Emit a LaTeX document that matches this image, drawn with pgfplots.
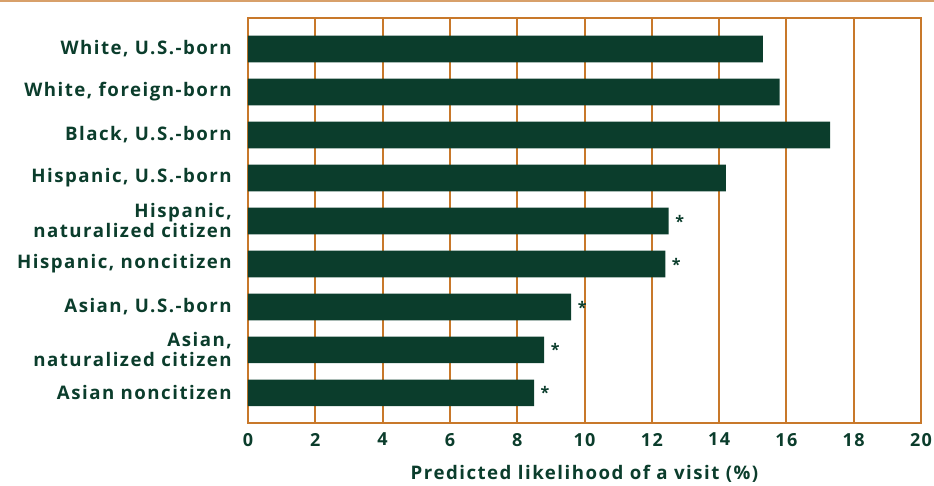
\documentclass[border=0pt]{standalone}
\usepackage{pgfplots}
\pgfplotsset{compat=1.18}
\usepackage{fontspec}
\setmainfont{Open Sans}[LetterSpace=8]
\definecolor{bargreen}{HTML}{0B3D2C}
\definecolor{gridorange}{HTML}{C8782A}
\begin{document}
\begin{tikzpicture}
\path[use as bounding box] (-186pt,-46.5pt) rectangle (514.5pt,317.25pt);
\draw[gridorange!70, line width=1.2pt] (-186pt,316.6pt) -- (514.5pt,316.6pt);
\begin{axis}[
  at={(0,0)}, anchor=south west,
  scale only axis,
  width=504.75pt, height=303.75pt,
  xbar, bar width=20pt,
  xmin=0, xmax=20,
  ymin=-0.72, ymax=8.7,
  y dir=reverse,
  xtick={0,2,...,20},
  ytick={0,...,8},
  yticklabels={{White, U.S.-born},{White, foreign-born},{Black, U.S.-born},{Hispanic, U.S.-born},{Hispanic,\\naturalized citizen},{Hispanic, noncitizen},{Asian, U.S.-born},{Asian,\\naturalized citizen},{Asian noncitizen}},
  yticklabel style={align=right, font=\bfseries\fontsize{14}{15}\selectfont, text=bargreen, inner sep=0pt, xshift=-12pt},
  xticklabel style={font=\bfseries\fontsize{13.5}{14}\selectfont, text=bargreen, yshift=-4pt},
  /pgf/number format/assume math mode=true,
  major tick length=0pt,
  xmajorgrids, grid style={gridorange, line width=1.5pt},
  axis line style={gridorange, line width=1.5pt},
  xlabel={Predicted likelihood of a visit (\%)},
  xlabel style={font=\bfseries\fontsize{14}{15}\selectfont, text=bargreen, yshift=-7pt},
  nodes near coords,
  point meta=explicit symbolic,
  every node near coord/.append style={font=\bfseries\fontsize{12}{12}\selectfont, text=bargreen, anchor=west, xshift=1.5pt},
]
\addplot[fill=bargreen, draw=none] coordinates {
 (15.3,0) [ ]
 (15.8,1) [ ]
 (17.3,2) [ ]
 (14.2,3) [ ]
 (12.5,4) [*]
 (12.4,5) [*]
 (9.6,6) [*]
 (8.8,7) [*]
 (8.5,8) [*]
};
\end{axis}
\end{tikzpicture}
\end{document}
